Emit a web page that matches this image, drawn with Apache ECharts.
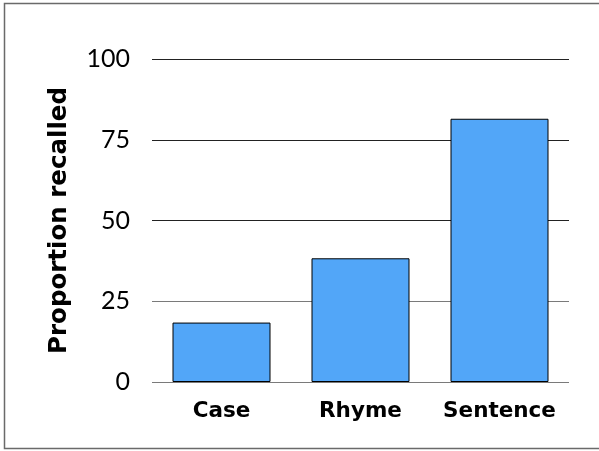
<!DOCTYPE html>
<html>
<head>
<meta charset="utf-8">
<script src="https://cdn.jsdelivr.net/npm/echarts@6/dist/echarts.min.js"></script>
<style>html,body{margin:0;padding:0;background:#fff}#c{width:599px;height:451px}</style>
</head>
<body>
<div id="c"></div>
<script>
const categories = ['Case', 'Rhyme', 'Sentence'];
const recalled = [18.4, 38.3, 81.5];
const yTicks = [0, 25, 50, 75, 100];
const yTitle = 'Proportion recalled';

const chart = echarts.init(document.getElementById('c'), null, {renderer: 'canvas'});
chart.setOption({
  animation: false,
  backgroundColor: '#fff',
  graphic: [{
    type: 'rect',
    shape: {x: 4.5, y: 3.5, width: 620, height: 445},
    style: {fill: 'none', stroke: '#6a6a6a', lineWidth: 1.5},
    silent: true
  }],
  grid: {left: 152, right: 30, top: 59, bottom: 69, containLabel: false},
  xAxis: {
    type: 'category',
    data: categories,
    axisLine: {show: false},
    axisTick: {show: false},
    axisLabel: {interval: 0, hideOverlap: false, margin: 18, fontFamily: 'DejaVu Sans', fontWeight: 'bold', fontSize: 21.5, color: '#000'}
  },
  yAxis: {
    type: 'value',
    min: yTicks[0],
    max: yTicks[yTicks.length - 1],
    interval: 25,
    name: yTitle,
    nameLocation: 'middle',
    nameGap: 80,
    nameRotate: 90,
    nameTextStyle: {fontFamily: 'DejaVu Sans', fontWeight: 'bold', fontSize: 24.5, color: '#000'},
    axisLine: {show: false},
    axisTick: {show: false},
    axisLabel: {margin: 22, fontFamily: 'Lato', fontSize: 25, color: '#000'},
    splitLine: {show: true, lineStyle: {color: ['#7a7a7a', '#7a7a7a', '#222', '#222', '#222'], width: 1.2}}
  },
  series: [{
    type: 'bar',
    data: recalled,
    barWidth: 98,
    itemStyle: {color: '#52A6F8', borderColor: '#000', borderWidth: 1}
  }]
});
</script>
</body>
</html>
